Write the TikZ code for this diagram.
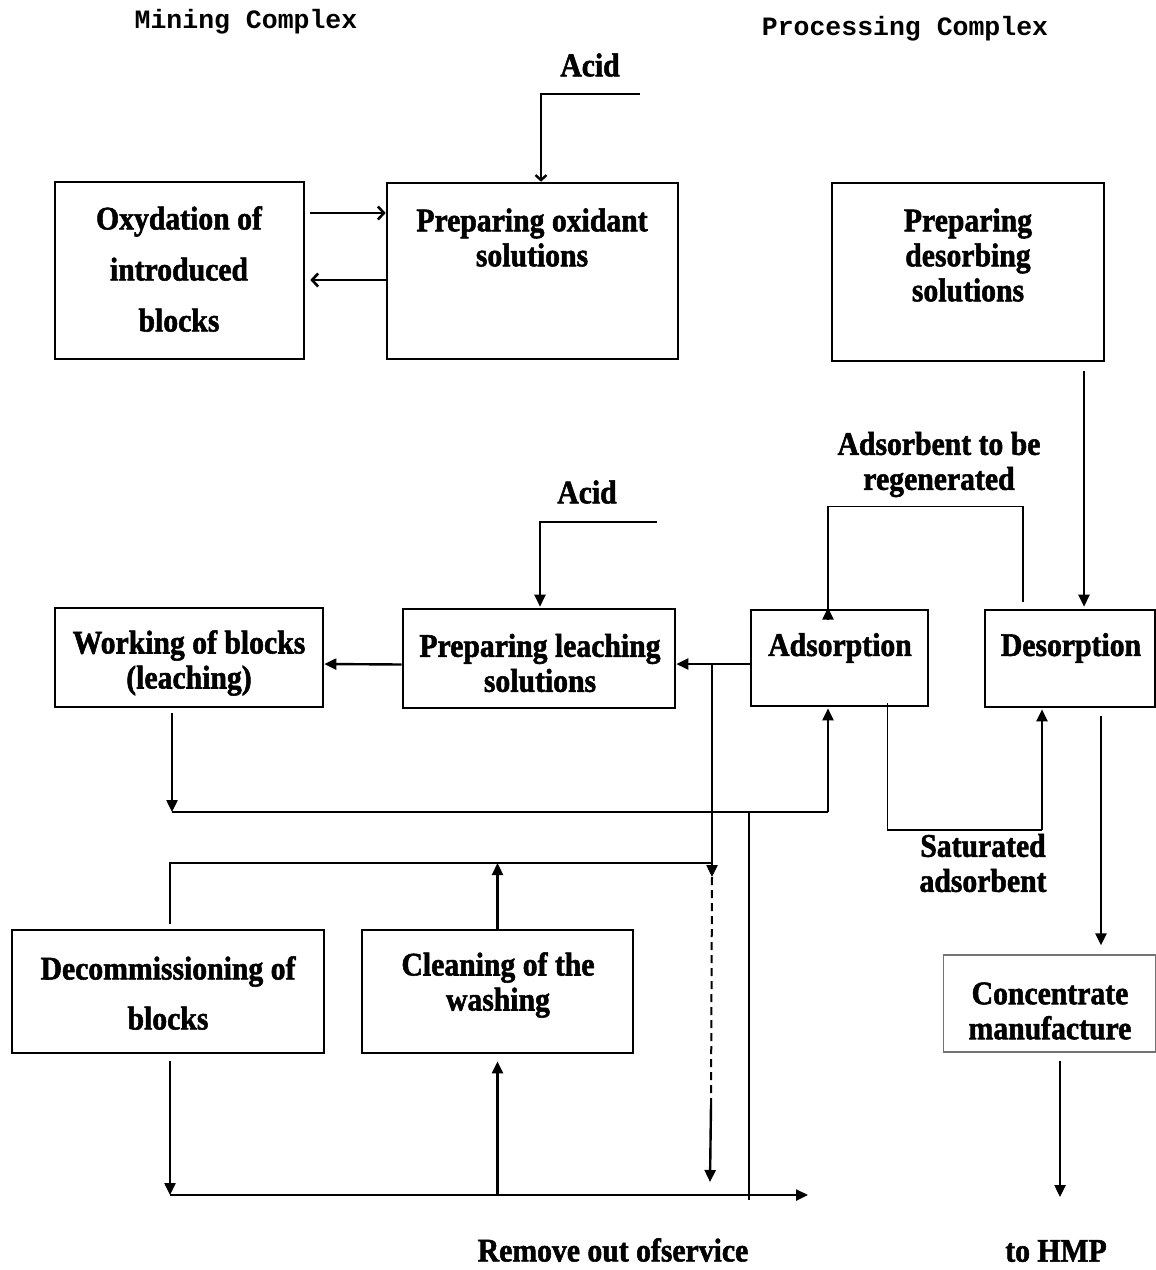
\documentclass[tikz,border=0pt]{standalone}
\usepackage{fontspec}
\setmainfont{Liberation Serif}[BoldFeatures={FakeStretch=0.9,FakeBold=1.6}]
\setmonofont{Liberation Mono}
\usetikzlibrary{arrows.meta}
\begin{document}
\begin{tikzpicture}[x=1pt,y=-1pt,
  box/.style={draw,line width=2.6pt,inner sep=0pt},
  thinbox/.style={draw=black!55,line width=1.2pt,inner sep=0pt},
  txt/.style={font=\bfseries\fontsize{33}{35}\selectfont,align=center,inner sep=0pt},
  hdr/.style={font=\ttfamily\bfseries\fontsize{26.5}{30}\selectfont,inner sep=0pt},
  ln/.style={line width=2.4pt},
  tl/.style={line width=1.4pt},
  arr/.style={line width=2.4pt,-{Triangle[length=12pt,width=11pt]}},
  oarr/.style={line width=2.6pt,-{Straight Barb[length=6pt,width=13pt]}}]
\useasboundingbox (0,0) rectangle (1156,1270);

% headers
\node[hdr] (hmin) at (246,22) {Mining Complex};
\node[hdr] (hproc) at (905,29) {Processing Complex};

% boxes
\node[box,minimum width=249,minimum height=177] (ox) at (179.5,270.5) {};
\node[box,minimum width=291,minimum height=176] (po) at (532.5,271) {};
\node[box,minimum width=272,minimum height=178] (pd) at (968,272) {};
\node[box,minimum width=268,minimum height=99] (wb) at (189,657.5) {};
\node[box,minimum width=272,minimum height=99] (pl) at (539,658.5) {};
\node[box,minimum width=177,minimum height=96] (ad) at (839.5,658) {};
\node[box,minimum width=170,minimum height=97] (de) at (1070,658.5) {};
\node[box,minimum width=312,minimum height=123] (dc) at (168,991.5) {};
\node[box,minimum width=271,minimum height=123] (cl) at (497.5,991.5) {};
\node[thinbox,minimum width=212,minimum height=97] (cm) at (1049.5,1003.5) {};

% box texts
\node[txt,font=\bfseries\fontsize{33}{51}\selectfont] (tox) at (179,269) {Oxydation of\\introduced\\blocks};
\node[txt] (tpo) at (532,237.5) {Preparing oxidant\\solutions};
\node[txt] (tpd) at (968,255) {Preparing\\desorbing\\solutions};
\node[txt] (twb) at (189,663) {Working of blocks\\(leaching)};
\node[txt] (tpl) at (540,663) {Preparing leaching\\solutions};
\node[txt] (tad) at (840,648) {Adsorption};
\node[txt] (tde) at (1071,648) {Desorption};
\node[txt,font=\bfseries\fontsize{33}{50}\selectfont] (tdc) at (168,993) {Decommissioning of\\blocks};
\node[txt] (tcl) at (498,985) {Cleaning of the\\washing};
\node[txt] (tcm) at (1050,1011) {Concentrate\\manufacture};

% free labels
\node[txt] (acid1) at (590,65) {Acid};
\node[txt] (acid2) at (587,492) {Acid};
\node[txt] (lreg) at (939,464.5) {Adsorbent to be\\regenerated};
\node[txt] (lsat) at (983,863) {Saturated\\adsorbent};
\node[txt] (lrem) at (613,1250) {Remove out ofservice};
\node[txt] (lhmp) at (1056,1251) {to HMP};

% helper coordinates
\coordinate (a1) at (640,94);
\coordinate (a2) at (657,522);
\coordinate (j1) at (712,664);
\coordinate (j2) at (712,877);
\coordinate (j3) at (711,1105);
\coordinate (j4) at (710,1182);
\coordinate (j5) at (712,863);
\coordinate (c1) at (172,812);
\coordinate (c2) at (749,813);
\coordinate (c3) at (749,1200);
\coordinate (b1) at (170,1195);
\coordinate (b2) at (808,1195);
\coordinate (s1) at (1042,830);
\coordinate (h1) at (1060,1197);

% connectors top
\draw[ln,-{Straight Barb[length=5pt,width=11pt]}] (a1) -| ([xshift=8.5]po.north);
\draw[oarr] ([xshift=5,yshift=57.5]ox.east) -- ([yshift=58]po.west);
\draw[oarr] ([yshift=-9]po.west) -- ([xshift=5,yshift=-9.5]ox.east);
\draw[arr] ([xshift=116,yshift=-9]pd.south) -- ([xshift=14,yshift=2]de.north);
\draw[tl] ([xshift=-47,yshift=7]de.north) -- ++(0,-95) -| ([xshift=-11.5,yshift=-1]ad.north);
\draw[arr] ([xshift=-11.5,yshift=-11]ad.north) -- ([xshift=-11.5,yshift=1]ad.north);

% middle
\draw[arr] (a2) -| ([xshift=1,yshift=1]pl.north);
\draw[arr] ([yshift=-6]pl.west) -- ([yshift=-6.5]wb.east);
\draw[arr] ([yshift=-6]ad.west) -- ([yshift=-5.5]pl.east);
\draw[arr] (j1) -- (j2);
\draw[line width=2pt,dash pattern=on 8pt off 5pt] (j2) -- (j3);
\draw[arr] (j3) -- (j4);
\draw[arr] ([xshift=-17,yshift=-5]wb.south) -- (c1);
\draw[tl] (c1) -- ([xshift=-11.5]ad.south |- c1);
\draw[arr] ([xshift=-11.5]ad.south |- c1) -- ([xshift=-11.5,yshift=-1]ad.south);
\draw[ln] (c2) -- (c3);
\draw[tl] ([xshift=48,yshift=4]ad.south) |- (s1);
\draw[arr] (s1) -- ([xshift=-28,yshift=-1]de.south);
\draw[ln] ([xshift=31,yshift=-8]de.south) -- ([xshift=51.5,yshift=22]cm.north);
\draw[arr] ([xshift=51.5,yshift=22]cm.north) -- ([xshift=51.5,yshift=9]cm.north);

% bottom
\draw[ln] ([xshift=2,yshift=5]dc.north) |- (j5);
\draw[arr] (cl.north) -- (cl.north |- j5);
\draw[arr] ([xshift=2,yshift=-7]dc.south) -- (b1);
\draw[arr] (b1) -- (b2);
\draw[arr] (cl.south |- b1) -- ([yshift=-7]cl.south);
\draw[arr] ([xshift=10.5,yshift=-8]cm.south) -- (h1);
\end{tikzpicture}
\end{document}
